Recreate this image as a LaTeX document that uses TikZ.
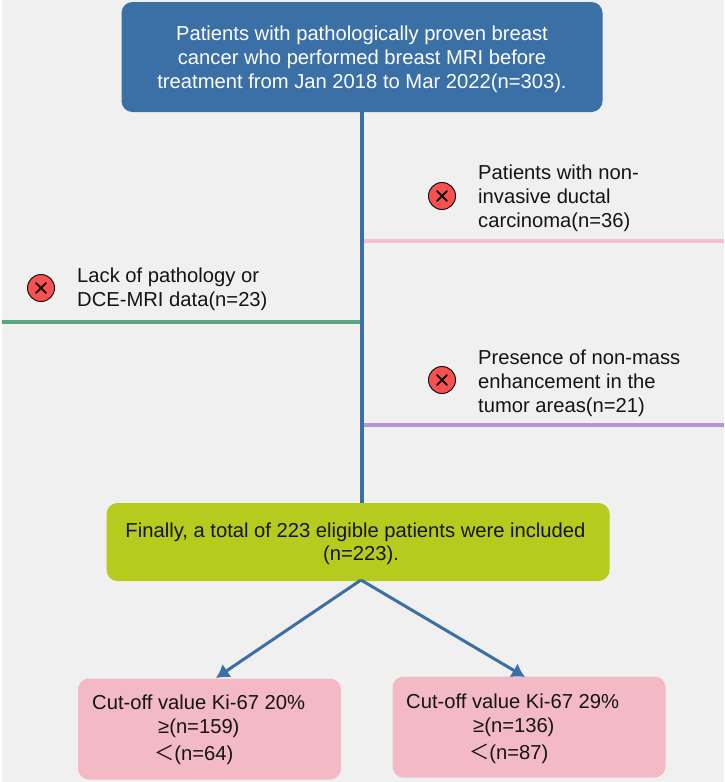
\documentclass[tikz,border=0pt]{standalone}
\usepackage{fontspec}
\setmainfont{Liberation Sans}
\newfontfamily\cjkfont{Noto Sans CJK SC}
\definecolor{bgc}{HTML}{F0F0F0}
\definecolor{blueb}{HTML}{3A70A6}
\definecolor{oliveb}{HTML}{B7CB1F}
\definecolor{pinkb}{HTML}{F3BAC6}
\definecolor{pinkl}{HTML}{F4BFCB}
\definecolor{greenl}{HTML}{5AA583}
\definecolor{purplel}{HTML}{B893D8}
\definecolor{redc}{HTML}{F95050}
\definecolor{ink}{HTML}{141414}
\tikzset{
  x=1pt,y=-1pt,
  boxs/.style={rounded corners=11pt,inner sep=0pt,outer sep=0pt,minimum height=#1},
  bluebox/.style={boxs=110pt,fill=blueb,minimum width=481pt},
  olivebox/.style={boxs=78pt,fill=oliveb,text=ink,minimum width=503pt},
  pinkbox/.style={boxs=101pt,fill=pinkb},
  lab/.style={text=ink,align=left,anchor=north west,inner sep=0pt,font=\fontsize{20.2}{23.6}\selectfont},
  toplab/.style={text=white,align=center,inner sep=0pt,font=\fontsize{20.2}{23.8}\selectfont},
  flow/.style={draw=blueb,line width=4pt},
  sidel/.style={line width=4pt},
  splitl/.style={draw=blueb,line width=3pt,-{Latex[length=13pt,width=16pt]}},
  xmark/.style={circle,draw=ink,fill=redc,line width=1pt,minimum size=27pt,inner sep=0pt},
}
\usetikzlibrary{arrows.meta}
\begin{document}
\begin{tikzpicture}
\useasboundingbox (0,0) rectangle (724,782);
\fill[white] (0,0) rectangle (724,782);
\fill[bgc] (2,0) rectangle (724,782);

\node[bluebox] (top) at (362,57) {};
\node[toplab] (toptext) at (362,59) {Patients with pathologically proven breast\\cancer who performed breast MRI before\\treatment from Jan 2018 to Mar 2022(n=303).};
\node[olivebox] (final) at (358,542) {};
\node[pinkbox,minimum width=263pt] (cutl) at (209.5,729) {};
\node[pinkbox,minimum width=273pt] (cutr) at (529,727) {};

\coordinate (trunkb) at (top.south -| 362,0);
\coordinate (finalt) at (362,503);
\coordinate (apex) at (361,580);
\coordinate (pinkj) at (362,241);
\coordinate (pinke) at (724,241);
\coordinate (greenj) at (362,322);
\coordinate (greene) at (2,322);
\coordinate (purplej) at (362,425);
\coordinate (purplee) at (724,425);
\coordinate (cutlt) at (216,678);
\coordinate (cutrt) at (525,677);

\draw[sidel,draw=pinkl] (pinkj) -- (pinke);
\draw[sidel,draw=greenl] (greenj) -- (greene);
\draw[sidel,draw=purplel] (purplej) -- (purplee);
\draw[flow] (trunkb) -- (finalt);
\draw[splitl] (apex) -- (cutlt);
\draw[splitl] (apex) -- (cutrt);

\node[lab,anchor=north] (finalt1) at (355.5,523) {Finally, a total of 223 eligible patients were included};
\node[lab,anchor=north] (finalt2) at (361,546) {(n=223).};

\node[xmark] (x1) at (442,196) {};
\node[xmark] (x2) at (41,288) {};
\node[xmark] (x3) at (442,380) {};
\foreach \n in {x1,x2,x3}{
  \draw[ink,line width=2pt,line cap=round] ([xshift=-5pt,yshift=-5pt]\n.center) -- ([xshift=5pt,yshift=5pt]\n.center);
  \draw[ink,line width=2pt,line cap=round] ([xshift=-5pt,yshift=5pt]\n.center) -- ([xshift=5pt,yshift=-5pt]\n.center);
}

\node[lab] (l1) at (478,165) {Patients with non-\\invasive ductal\\carcinoma(n=36)};
\node[lab] (l2) at (77,268) {Lack of pathology or\\DCE-MRI data(n=23)};
\node[lab] (l3) at (478,350) {Presence of non-mass\\enhancement in the\\tumor areas(n=21)};

\node[lab] (c1a) at (92,695) {Cut-off value Ki-67 20\%};
\node[lab] (c1b) at (158,719) {≥(n=159)};
\node[lab] (c1c) at (154,745) {{\cjkfont ＜}(n=64)};
\node[lab] (c2a) at (406,694) {Cut-off value Ki-67 29\%};
\node[lab] (c2b) at (473,718) {≥(n=136)};
\node[lab] (c2c) at (469,744) {{\cjkfont ＜}(n=87)};
\end{tikzpicture}
\end{document}
